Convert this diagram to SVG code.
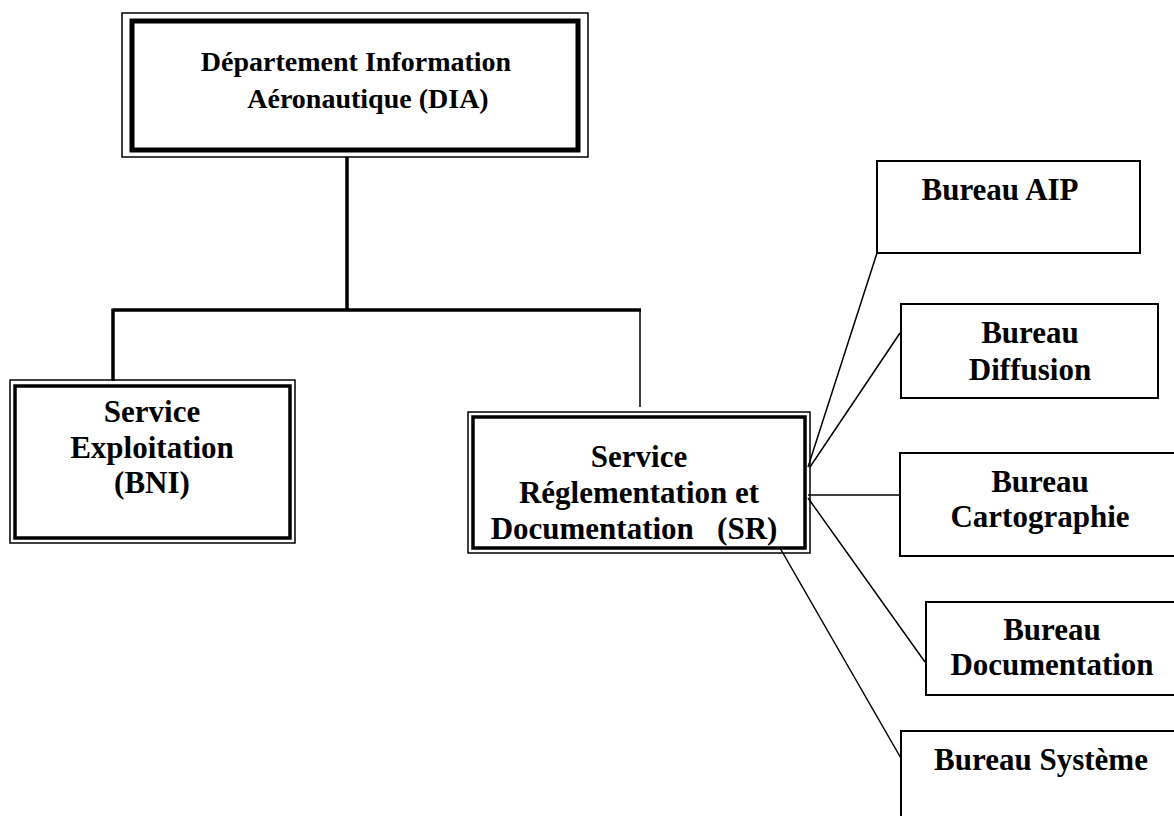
<svg xmlns="http://www.w3.org/2000/svg" width="1174" height="816" viewBox="0 0 1174 816">
<style>
text{font-family:"Liberation Serif","Times New Roman",serif;font-weight:bold;font-size:31px;fill:#000;text-anchor:middle;white-space:pre}
.dia{font-size:28px}
.thin{fill:none;stroke:#000;stroke-width:1.5}
.thick{fill:none;stroke:#000;stroke-width:3.5}
.heavy{fill:none;stroke:#000;stroke-width:5}
.box{fill:#fff;stroke:#000;stroke-width:2}
.c{fill:none;stroke:#000;stroke-width:1.5}
.ct{fill:none;stroke:#000;stroke-width:3.5}
</style>
<rect width="1174" height="816" fill="#fff"/>
<g id="connectors">
<path class="ct" d="M347 157V310M113 310H641M113 308.5V381"/>
<path class="c" d="M640 310V407"/>
<path class="c" d="M808 467L877 253M810 467L900 333M808 495H902M808 498L925 662M780 548L902 760"/>
</g>
<g id="dia">
<rect class="thin" x="122" y="13" width="466" height="144"/>
<rect class="heavy" x="132" y="21" width="446" height="129"/>
<text class="dia" x="356" y="71">Département Information</text>
<text class="dia" x="368" y="108">Aéronautique (DIA)</text>
</g>
<g id="bni">
<rect class="thin" x="10" y="380" width="285" height="163"/>
<rect class="thick" x="15" y="386" width="275" height="152"/>
<text x="152" y="422">Service</text>
<text x="152" y="458">Exploitation</text>
<text x="152" y="493">(BNI)</text>
</g>
<g id="sr">
<rect class="thin" x="468" y="412" width="342" height="141"/>
<rect class="thick" x="473" y="417" width="332" height="131"/>
<text x="639" y="467">Service</text>
<text x="639" y="503">Réglementation et</text>
<text x="634" y="539">Documentation   (SR)</text>
</g>
<g id="aip">
<rect class="box" x="877" y="161" width="263" height="92"/>
<text x="1000" y="200">Bureau AIP</text>
</g>
<g id="diffusion">
<rect class="box" x="901" y="304" width="257" height="94"/>
<text x="1030" y="343">Bureau</text>
<text x="1030" y="380">Diffusion</text>
</g>
<g id="cartographie">
<rect class="box" x="900" y="453" width="280" height="103"/>
<text x="1040" y="492">Bureau</text>
<text x="1040" y="527">Cartographie</text>
</g>
<g id="documentation">
<rect class="box" x="926" y="602" width="252" height="93"/>
<text x="1052" y="640">Bureau</text>
<text x="1052" y="675">Documentation</text>
</g>
<g id="systeme">
<rect class="box" x="901" y="731" width="280" height="92"/>
<text x="1041" y="770">Bureau Système</text>
</g>
</svg>
